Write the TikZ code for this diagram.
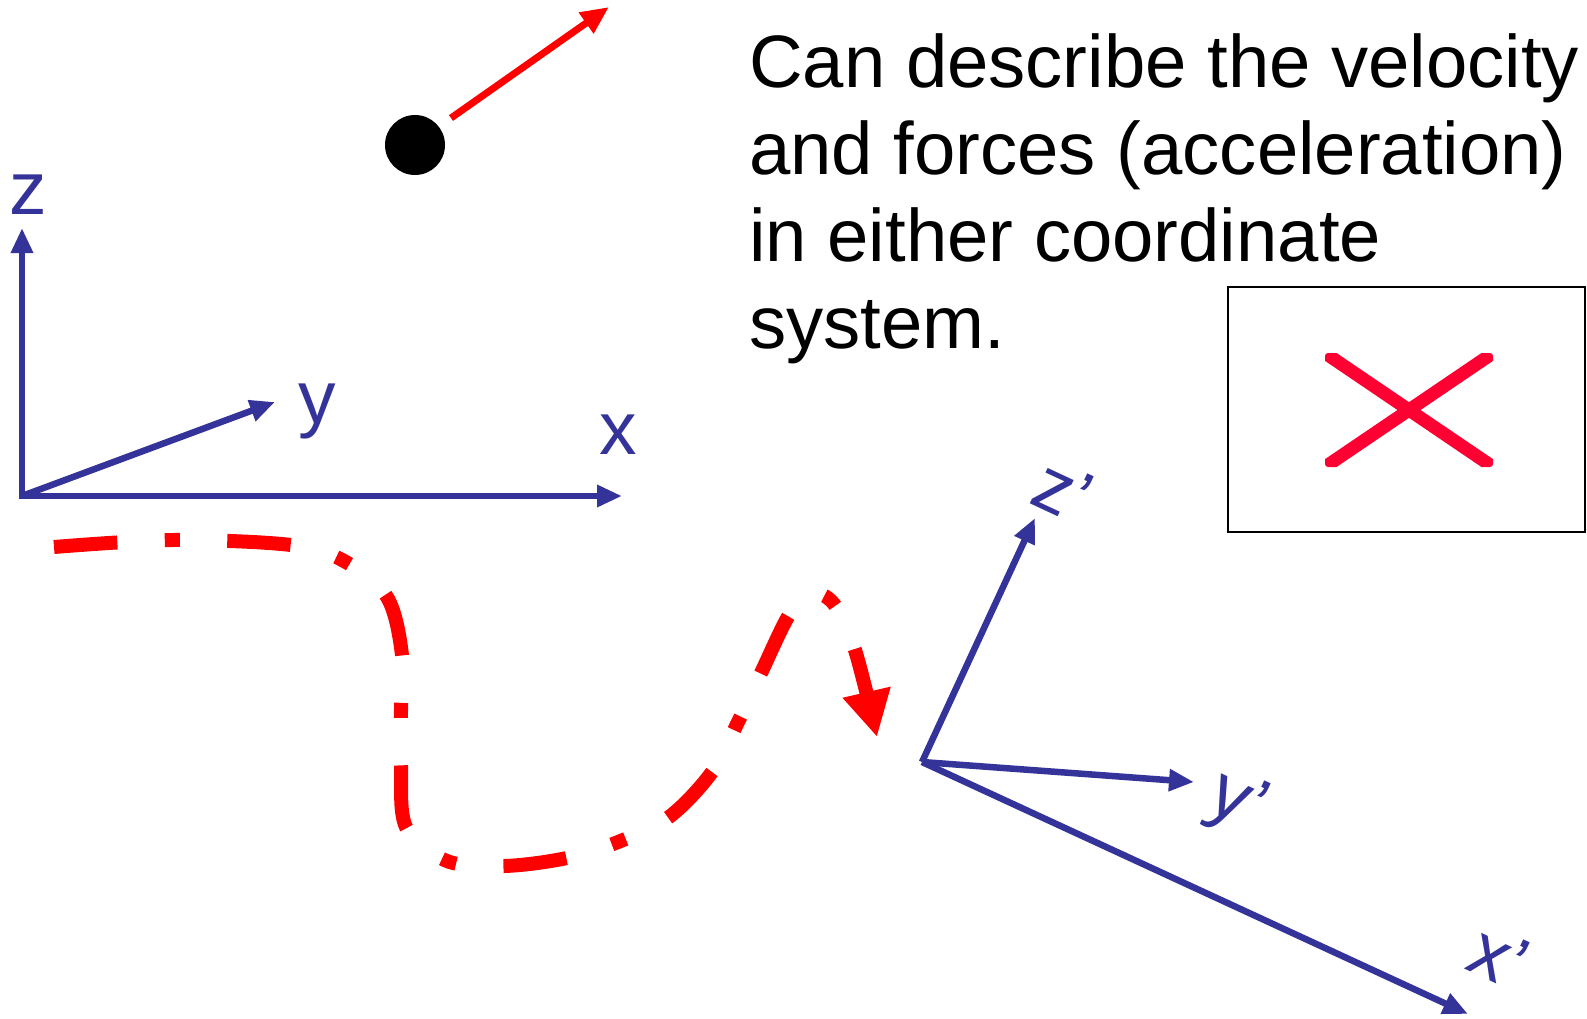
\documentclass[tikz,border=0pt]{standalone}
\usepackage{fontspec}
\setmainfont{Liberation Sans}
\usetikzlibrary{arrows.meta}
\definecolor{axisblue}{HTML}{333399}
\definecolor{xred}{HTML}{FF0033}
\begin{document}
\begin{tikzpicture}[x=1pt,y=-1pt,
  axis/.style={draw=axisblue, line width=6.5pt, -{Triangle[length=25pt,width=21pt]}},
  lab/.style={text=axisblue, font=\fontsize{75}{90}\selectfont, inner sep=0pt},
  body/.style={font=\fontsize{74.3}{87}\selectfont, inner sep=0pt, anchor=base west},
  trail/.style={draw=red, line width=14pt, dash pattern=on 63.5pt off 47.5pt on 15pt off 47.5pt, -{Triangle[length=46pt,width=46pt]}}]
\useasboundingbox (0,0) rectangle (1587,1018);
% original frame
\coordinate (O) at (22,496);
\coordinate (Ozb) at (22,499);
\coordinate (Oxl) at (19,496);
\coordinate (Zt) at (22,228);
\coordinate (Xt) at (622,496);
\coordinate (Yt) at (275,402);
\draw[axis] (Ozb) -- (Zt);
\draw[axis] (Oxl) -- (Xt);
\draw[axis] (O) -- (Yt);
\node[lab] (zlab) at (28,195) {z};
\node[lab] (ylab) at (317,411) {y};
\node[lab] (xlab) at (618,435) {x};
% particle and velocity
\node[circle, fill=black, minimum size=60pt, inner sep=0pt] (ball) at (415,145) {};
\coordinate (v0) at (451,118);
\coordinate (v1) at (609,7);
\draw[red, line width=7pt, -{Triangle[length=28pt,width=24pt]}] (v0) -- (v1);
% text
\node[body] (l1) at (749,87) {Can describe the velocity};
\node[body] (l2) at (749,174) {and forces (acceleration)};
\node[body] (l3) at (749,261) {in either coordinate};
\node[body] (l4) at (749,348) {system.};
% box with X
\node[draw=black, line width=2pt, minimum width=357pt, minimum height=245pt, inner sep=0pt] (box) at (1406.5,409.5) {};
\begin{scope}
\clip[rounded corners=3pt] (1325,353) rectangle (1493,467);
\draw[xred, line width=13pt] (1316.7,347.4) -- (1501.3,472.6);
\draw[xred, line width=13pt] (1316.7,472.6) -- (1501.3,347.4);
\end{scope}
% trajectory
\draw[trail] plot[smooth, tension=0.55] coordinates {(54,547) (172,540) (291,545) (344,561) (387,597) (402,655) (401,710) (401,766) (406,827) (447,861) (504,866) (567,858) (618,842) (669,817) (712,772) (738,722) (761,673) (789,615) (810,593) (834,604) (855,650) (877,737)};
% primed frame
\coordinate (P) at (922,762);
\coordinate (Zp) at (1035,518);
\coordinate (Yp) at (1194,782);
\coordinate (Xp) at (1468,1014);
\draw[axis] (P) -- (Zp);
\draw[axis] (P) -- (Yp);
\draw[axis] (P) -- (Xp);
\node[lab, rotate=-25] (zplab) at (1063,491) {z’};
\node[lab, rotate=-25] (yplab) at (1237,805) {y’};
\node[lab, rotate=-25] (xplab) at (1499,957) {x’};
\end{tikzpicture}
\end{document}
